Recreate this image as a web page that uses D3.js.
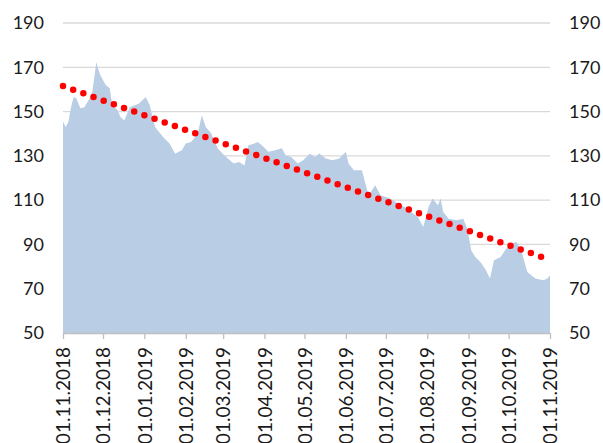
<!DOCTYPE html>
<html>
<head>
<meta charset="utf-8">
<script src="https://cdn.jsdelivr.net/npm/d3@7"></script>
<style>
  body { margin: 0; background: #fff; }
  svg { display: block; }
  text { font-family: Lato, "Open Sans", sans-serif; fill: #1a1a1a; }
</style>
</head>
<body>
<div id="chart"></div>
<script>
// Daily price series
const dates = [
  "2018-11-01","2018-11-03","2018-11-05","2018-11-07","2018-11-09","2018-11-11","2018-11-14",
  "2018-11-17","2018-11-21","2018-11-23","2018-11-26","2018-11-27","2018-11-29","2018-12-03",
  "2018-12-06","2018-12-08","2018-12-12","2018-12-14","2018-12-17","2018-12-21","2018-12-28",
  "2019-01-02","2019-01-05","2019-01-09","2019-01-15","2019-01-20","2019-01-24","2019-01-29",
  "2019-02-01","2019-02-05","2019-02-10","2019-02-13","2019-02-16","2019-02-20","2019-02-25",
  "2019-03-02","2019-03-06","2019-03-09","2019-03-13","2019-03-17","2019-03-20","2019-03-24",
  "2019-03-27","2019-03-30","2019-04-04","2019-04-09","2019-04-14","2019-04-17","2019-04-21",
  "2019-04-26","2019-04-30","2019-05-05","2019-05-09","2019-05-12","2019-05-17","2019-05-22",
  "2019-05-27","2019-06-01","2019-06-03","2019-06-07","2019-06-13","2019-06-17","2019-06-19",
  "2019-06-23","2019-06-27","2019-07-01","2019-07-05","2019-07-10","2019-07-15","2019-07-20",
  "2019-07-25","2019-07-29","2019-08-02","2019-08-05","2019-08-09","2019-08-11","2019-08-13",
  "2019-08-17","2019-08-23","2019-08-28","2019-08-31","2019-09-03","2019-09-06","2019-09-10",
  "2019-09-14","2019-09-17","2019-09-20","2019-09-25","2019-09-30","2019-10-04","2019-10-07",
  "2019-10-10","2019-10-15","2019-10-21","2019-10-27","2019-10-30","2019-11-01"
];
const values = [
  145.5,143,145.3,152,156.6,156,151.5,
  152,156,159,172.4,170,166.4,162,
  160.5,152.8,150.6,147.6,146,152,153.6,
  156.6,152.8,143,138.5,135.5,131,132.5,
  135.6,136.3,140,148.3,143,140.2,133.3,
  130.2,128,126.6,127.2,125.7,134.8,135.5,
  136.3,134.8,131.8,132.5,133.4,130.2,129.5,
  126.6,128,131,129.5,131.1,128.8,128,
  128.8,131.8,126.5,123.5,123.5,114.4,113,
  116.7,112.2,111.4,110.5,108.5,106.9,104.6,
  102.4,97.9,106.9,110.7,107.7,110.7,104.6,
  101.6,100.9,101.6,97.1,87.3,84.3,82,
  78.3,74.6,82.8,84.3,88.8,90.4,91.2,
  88.1,77.6,74.6,73.8,74.6,76
];

// Linear trend line, start and end values
const trendDates = ["2018-11-01", "2019-11-01"];
const trendValues = [161.5, 83];

// Axis ticks
const yTicks = [50, 70, 90, 110, 130, 150, 170, 190];
const xTickLabels = [
  "01.11.2018","01.12.2018","01.01.2019","01.02.2019","01.03.2019","01.04.2019","01.05.2019",
  "01.06.2019","01.07.2019","01.08.2019","01.09.2019","01.10.2019","01.11.2019"
];

const W = 603, H = 443;
const margin = { top: 23, right: 53, bottom: 110, left: 63 };
const width = W - margin.left - margin.right,
      height = H - margin.top - margin.bottom;

const parseDate = d3.timeParse("%Y-%m-%d");
const parseTick = d3.timeParse("%d.%m.%Y");

const data = dates.map((d, i) => ({ date: parseDate(d), value: values[i] }));
const trend = trendDates.map((d, i) => ({ date: parseDate(d), value: trendValues[i] }));

const svg = d3.select("#chart").append("svg")
  .attr("width", W)
  .attr("height", H);

const g = svg.append("g").attr("transform", `translate(${margin.left},${margin.top})`);

const x = d3.scaleTime()
  .domain([parseDate(dates[0]), parseDate(dates[dates.length - 1])])
  .range([0, width]);
const y = d3.scaleLinear().domain([50, 190]).range([height, 0]);

// Gridlines
g.append("g")
  .selectAll("line")
  .data(yTicks.slice(1))
  .enter()
  .append("line")
  .attr("x1", 0)
  .attr("x2", width)
  .attr("y1", d => y(d))
  .attr("y2", d => y(d))
  .attr("stroke", "#d9d9d9")
  .attr("stroke-width", 1.3);

// Area series
const area = d3.area()
  .x(d => x(d.date))
  .y0(y(50))
  .y1(d => y(d.value));

g.append("path")
  .datum(data)
  .attr("d", area)
  .attr("fill", "#b9cde5");

// Dotted trend line
const line = d3.line()
  .x(d => x(d.date))
  .y(d => y(d.value));

g.append("path")
  .datum(trend)
  .attr("d", line)
  .attr("fill", "none")
  .attr("stroke", "#ff0000")
  .attr("stroke-width", 6.5)
  .attr("stroke-linecap", "round")
  .attr("stroke-dasharray", "0 10.8");

// Bottom axis
const xAxis = g.append("g")
  .attr("transform", `translate(0,${height})`)
  .call(d3.axisBottom(x)
    .tickValues(xTickLabels.map(parseTick))
    .tickFormat((d, i) => xTickLabels[i])
    .tickSize(6)
    .tickSizeOuter(0));

xAxis.select(".domain").attr("stroke", "#bfbfbf").attr("stroke-width", 1.3);
xAxis.selectAll(".tick line").attr("stroke", "#bfbfbf").attr("stroke-width", 1.3);
xAxis.selectAll(".tick text")
  .attr("transform", "rotate(-90)")
  .attr("text-anchor", "end")
  .attr("x", -14)
  .attr("y", 0)
  .attr("dy", "0.35em")
  .style("font-size", "19px")
  .style("font-family", "Lato, sans-serif")
  .attr("fill", "#1a1a1a");

// Left axis labels
const yLeft = g.append("g")
  .call(d3.axisLeft(y).tickValues(yTicks).tickSize(0).tickPadding(19));
yLeft.select(".domain").remove();
yLeft.selectAll("text")
  .style("font-size", "18px")
  .style("font-family", "Lato, sans-serif")
  .attr("fill", "#1a1a1a");

// Right axis labels
const yRight = g.append("g")
  .attr("transform", `translate(${width},0)`)
  .call(d3.axisRight(y).tickValues(yTicks).tickSize(0).tickPadding(19));
yRight.select(".domain").remove();
yRight.selectAll("text")
  .style("font-size", "18px")
  .style("font-family", "Lato, sans-serif")
  .attr("fill", "#1a1a1a");
</script>
</body>
</html>
